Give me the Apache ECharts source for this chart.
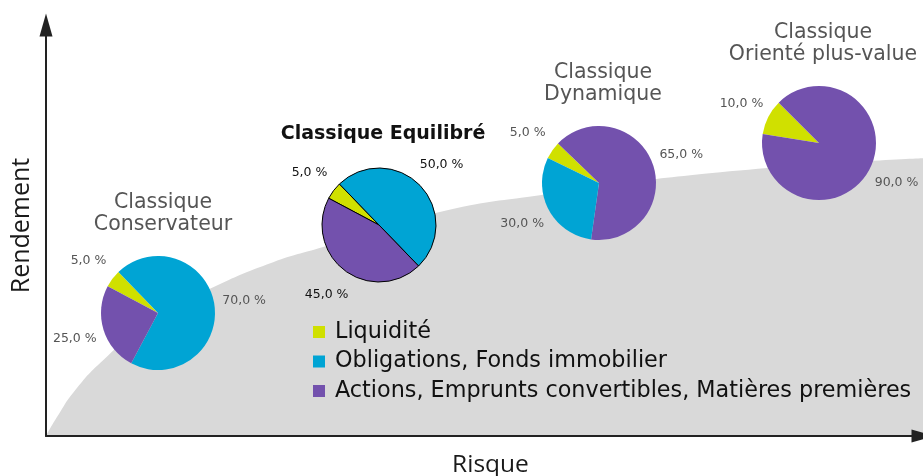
<!DOCTYPE html>
<html>
<head>
<meta charset="utf-8">
<script src="https://cdn.jsdelivr.net/npm/echarts@6/dist/echarts.min.js"></script>
<style>
  html, body { margin: 0; padding: 0; background: #fff; }
  #chart { width: 923px; height: 476px; }
</style>
</head>
<body>
<div id="chart"></div>
<script>
// asset classes, in legend order
const categories = ['Liquidité', 'Obligations, Fonds immobilier', 'Actions, Emprunts convertibles, Matières premières']
const catColors = ['#d0e000', '#00a4d4', '#7351ad']

// allocation per profile (%), same order as categories
const conservateur = [5, 70, 25]
const equilibre = [5, 50, 45]
const dynamique = [5, 30, 65]
const orientePlusValue = [10, 0, 90]

// risk / return frontier (grey area)
const riskX = [0, 0.23, 1.6, 3.1, 6.2, 11.9, 18.7, 25.9, 31.6, 44.9, 56.3, 76.9, 100]
const returnY = [0, 1.0, 5.8, 10.5, 17.8, 28.0, 35.8, 42.3, 46.0, 54.5, 58.6, 64.2, 67.6]

const FONT = '"DejaVu Sans", sans-serif'
const AXIS_FONT = '"Open Sans", sans-serif'

function pctLabel (p) {
  return p.value.toFixed(1).replace('.', ',') + ' %'
}

function sliceData (values, order, transparent) {
  return order.map(i => ({
    name: categories[i],
    value: values[i],
    itemStyle: { color: transparent ? 'rgba(0,0,0,0)' : catColors[i] }
  }))
}

// the drawn pie
function pieSeries (values, order, center, startAngle, selected) {
  return {
    type: 'pie',
    silent: true,
    center: center,
    radius: 57,
    startAngle: startAngle,
    clockwise: true,
    z: 5,
    label: { show: false },
    labelLine: { show: false },
    itemStyle: selected ? { borderColor: '#000', borderWidth: 1 } : { borderWidth: 0 },
    emphasis: { disabled: true },
    data: sliceData(values, order, false)
  }
}

// invisible wider pie, only used to place the % labels on the mid angle
function labelSeries (values, order, center, startAngle, selected) {
  return {
    type: 'pie',
    silent: true,
    center: center,
    radius: [0, 168],
    startAngle: startAngle,
    clockwise: true,
    z: 4,
    label: {
      show: true,
      position: 'inside',
      rotate: 0,
      formatter: pctLabel,
      fontFamily: FONT,
      fontSize: 12.5,
      color: selected ? '#111' : '#555'
    },
    labelLine: { show: false },
    itemStyle: { borderWidth: 0 },
    emphasis: { disabled: true },
    data: sliceData(values, order, true)
  }
}

const chart = echarts.init(document.getElementById('chart'))

const profiles = [
  [conservateur, [0, 1, 2], [158, 313], 152, false],
  [equilibre, [0, 1, 2], [379, 225], 152, true],
  [dynamique, [0, 2, 1], [599, 183], 154, false],
  [orientePlusValue, [0, 2], [819, 143], 171, false]
]

const axisArrow = {
  symbol: ['none', 'triangle'],
  symbolSize: [13, 23]
}

const option = {
  animation: false,
  grid: { left: 46, right: 0, top: 25, bottom: 40, outerBoundsMode: 'none', containLabel: false },
  xAxis: {
    type: 'value',
    z: 10,
    min: 0,
    max: 100,
    name: 'Risque',
    nameLocation: 'middle',
    nameGap: 17,
    nameTextStyle: { fontFamily: AXIS_FONT, fontSize: 24.5, color: '#1a1a1a', verticalAlign: 'top', padding: [0, 0, 0, 12] },
    axisLine: Object.assign({ lineStyle: { color: '#222', width: 2 } }, axisArrow),
    axisTick: { show: false },
    axisLabel: { show: false },
    splitLine: { show: false }
  },
  yAxis: {
    type: 'value',
    z: 10,
    min: 0,
    max: 100,
    name: 'Rendement',
    nameLocation: 'middle',
    nameGap: 12,
    nameRotate: 90,
    nameTextStyle: { fontFamily: AXIS_FONT, fontSize: 25, color: '#1a1a1a', padding: [0, 0, 0, 10] },
    axisLine: Object.assign({ show: true, lineStyle: { color: '#222', width: 2 } }, axisArrow),
    axisTick: { show: false },
    axisLabel: { show: false },
    splitLine: { show: false }
  },
  legend: {
    data: categories.map((c, i) => ({ name: c, itemStyle: { color: catColors[i] } })),
    orient: 'vertical',
    left: 313,
    top: 321,
    padding: 0,
    icon: 'rect',
    itemWidth: 12,
    itemHeight: 12,
    itemGap: 7.5,
    selectedMode: false,
    textStyle: { fontFamily: FONT, fontSize: 22.3, color: '#111', lineHeight: 22, padding: [0, 0, 0, 5] }
  },
  graphic: [
    { type: 'text', style: { text: 'Classique\nConservateur', x: 163, y: 214, textAlign: 'center', textVerticalAlign: 'middle', font: '20.5px ' + FONT, fill: '#555', lineHeight: 22 } },
    { type: 'text', style: { text: 'Classique Equilibré', x: 383, y: 134, textAlign: 'center', textVerticalAlign: 'middle', font: 'bold 19px ' + FONT, fill: '#111' } },
    { type: 'text', style: { text: 'Classique\nDynamique', x: 603, y: 84, textAlign: 'center', textVerticalAlign: 'middle', font: '20.5px ' + FONT, fill: '#555', lineHeight: 22 } },
    { type: 'text', style: { text: 'Classique\nOrienté plus-value', x: 823, y: 44, textAlign: 'center', textVerticalAlign: 'middle', font: '20.5px ' + FONT, fill: '#555', lineHeight: 22 } }
  ],
  series: [
    {
      type: 'line',
      silent: true,
      smooth: 0.5,
      showSymbol: false,
      lineStyle: { width: 0 },
      areaStyle: { color: '#d9d9d9', opacity: 1 },
      z: 1,
      data: riskX.map((x, i) => [x, returnY[i]])
    }
  ]
    .concat(profiles.map(p => pieSeries(...p)))
    .concat(profiles.map(p => labelSeries(...p)))
}

chart.setOption(option)
</script>
</body>
</html>
